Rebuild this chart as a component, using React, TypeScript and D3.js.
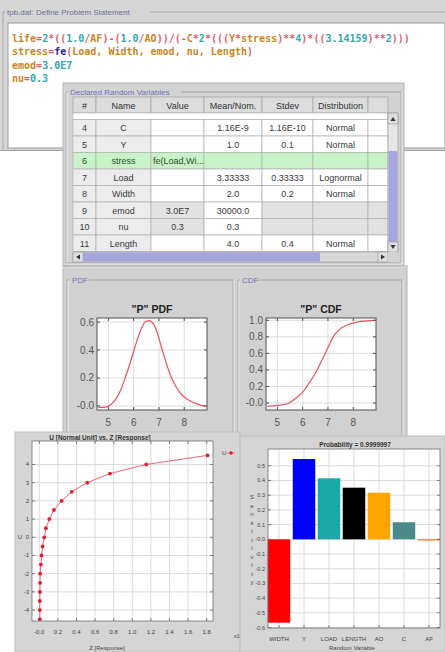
import React from 'react';
import * as d3 from 'd3';

// ---------------- data ----------------
const codeLines = [
  'life=2*((1.0/AF)-(1.0/AO))/(-C*2*(((Y*stress)**4)*((3.14159)**2)))',
  'stress=fe(Load, Width, emod, nu, Length)',
  'emod=3.0E7',
  'nu=0.3',
];

const tableHeaders = ['#', 'Name', 'Value', 'Mean/Nom.', 'Stdev', 'Distribution', ''];
const varIds = ['4', '5', '6', '7', '8', '9', '10', '11'];
const varNames = ['C', 'Y', 'stress', 'Load', 'Width', 'emod', 'nu', 'Length'];
const varValues = ['', '', 'fe(Load,Wi...', '', '', '3.0E7', '0.3', ''];
const varMeans = ['1.16E-9', '1.0', '', '3.33333', '2.0', '30000.0', '0.3', '4.0'];
const varStdevs = ['1.16E-10', '0.1', '', '0.33333', '0.2', '', '', '0.4'];
const varDists = ['Normal', 'Normal', '', 'Lognormal', 'Normal', '', '', 'Normal'];

const pdfX = [4.6, 4.9, 5.1, 5.3, 5.5, 5.7, 5.9, 6.1, 6.3, 6.45, 6.6, 6.75, 6.9, 7.1, 7.3, 7.5, 7.7, 7.9, 8.1, 8.3, 8.5, 8.85];
const pdfY = [-0.01, -0.008, 0.01, 0.05, 0.12, 0.22, 0.33, 0.45, 0.55, 0.6, 0.61, 0.595, 0.54, 0.42, 0.3, 0.2, 0.13, 0.08, 0.05, 0.03, 0.015, -0.005];
const cdfX = [4.6, 5.0, 5.4, 5.7, 6.0, 6.25, 6.5, 6.75, 7.0, 7.25, 7.5, 7.8, 8.1, 8.4, 8.85];
const cdfY = [-0.04, -0.03, -0.01, 0.05, 0.13, 0.24, 0.36, 0.51, 0.67, 0.82, 0.9, 0.95, 0.975, 0.99, 1.0];
const distTicksX = [5, 6, 7, 8];
const pdfTicksY = [0, 0.2, 0.4, 0.6];
const cdfTicksY = [0, 0.2, 0.4, 0.6, 0.8, 1.0];

const uValues = [-4.5, -4, -3.5, -3, -2.5, -2, -1.5, -1, -0.5, 0, 0.5, 1, 1.5, 2, 2.5, 3, 3.5, 4, 4.5];
const zValues = [0.006, 0.006, 0.006, 0.007, 0.009, 0.01, 0.018, 0.025, 0.036, 0.054, 0.072, 0.108, 0.158, 0.24, 0.348, 0.516, 0.76, 1.15, 1.81];
const uTicks = [-4, -3, -2, -1, 0, 1, 2, 3, 4];
const zTicks = [0, 0.2, 0.4, 0.6, 0.8, 1.0, 1.2, 1.4, 1.6, 1.8];

const sensVars = ['WIDTH', 'Y', 'LOAD', 'LENGTH', 'AO', 'C', 'AF'];
const sensValues = [-0.567, 0.546, 0.415, 0.351, 0.317, 0.116, -0.005];
const sensColors = ['#ff0000', '#0000ff', '#1aa8a8', '#000000', '#ffa500', '#4a8a8a', '#f07030'];
const sensTicks = [0.5, 0.4, 0.3, 0.2, 0.1, 0, -0.1, -0.2, -0.3, -0.4, -0.5, -0.6];

// ---------------- helpers ----------------
const SANS = 'Liberation Sans, Arial, sans-serif';
const MONO = 'DejaVu Sans Mono, monospace';
const fmt1 = (v: number) => (Math.abs(v) < 1e-9 ? '-0.0' : v.toFixed(1));

function tokenColor(tok: string): string {
  if (tok === 'fe') return '#2a2a98';
  if (/^[A-Za-z_]/.test(tok)) return '#c8861e';
  if (/^\d/.test(tok)) return '#2fa7b4';
  if (tok === ',' || tok === ' ') return '#c8861e';
  return '#e0606a';
}

function CodeLine({ text, x, y }: { text: string; x: number; y: number }) {
  const toks = text.match(/[A-Za-z_][A-Za-z_0-9]*|\d+(?:\.\d+)?(?:E\d+)?|./g) || [];
  return (
    <text x={x} y={y} fontFamily={MONO} fontSize={10} fontWeight="bold" style={{ whiteSpace: 'pre' }}>
      {toks.map((t, i) => (
        <tspan key={i} fill={tokenColor(t)}>{t}</tspan>
      ))}
    </text>
  );
}

function DistPlot({ x, y, xs, ys, yTicks, title }: any) {
  const [x0, x1] = x.range();
  const [yb, yt] = y.range();
  const line = d3
    .line<number>()
    .x((_, i) => x(xs[i]))
    .y((d) => y(d))
    .curve(d3.curveMonotoneX);
  return (
    <g>
      <rect x={x0} y={yt} width={x1 - x0} height={yb - yt} fill="#fff" />
      {distTicksX.map((t) => (
        <line key={'gx' + t} x1={x(t)} x2={x(t)} y1={yt} y2={yb} stroke="#d4d4d4" strokeWidth={0.8} />
      ))}
      {yTicks.map((t: number) => (
        <line key={'gy' + t} x1={x0} x2={x1} y1={y(t)} y2={y(t)} stroke="#d4d4d4" strokeWidth={0.8} />
      ))}
      <path d={line(ys) || ''} fill="none" stroke="#e8505e" strokeWidth={1.2} />
      <rect x={x0} y={yt} width={x1 - x0} height={yb - yt} fill="none" stroke="#505050" strokeWidth={1} />
      {distTicksX.map((t) => (
        <g key={'tx' + t}>
          <line x1={x(t)} x2={x(t)} y1={yb} y2={yb - 3} stroke="#505050" />
          <line x1={x(t)} x2={x(t)} y1={yt} y2={yt + 3} stroke="#505050" />
          <text x={x(t)} y={yb + 16} textAnchor="middle" fontFamily={SANS} fontSize={10} fill="#555">
            {String(t)}
          </text>
        </g>
      ))}
      {yTicks.map((t: number) => (
        <g key={'ty' + t}>
          <line x1={x0} x2={x0 + 3} y1={y(t)} y2={y(t)} stroke="#505050" />
          <line x1={x1} x2={x1 - 3} y1={y(t)} y2={y(t)} stroke="#505050" />
          <text x={x0 - 3} y={y(t) + 3.5} textAnchor="end" fontFamily={SANS} fontSize={10} fill="#555">
            {fmt1(t)}
          </text>
        </g>
      ))}
      <text x={(x0 + x1) / 2} y={yt - 5} textAnchor="middle" fontFamily={SANS} fontSize={10.5} fontWeight="bold" fill="#222">
        {title}
      </text>
    </g>
  );
}

function TitledBorder({ x, y, w, h, title, tx }: any) {
  const tw = title.length * 4.3 + 4;
  return (
    <g>
      <path
        d={`M${tx - 2},${y} H${x} V${y + h} H${x + w} V${y} H${tx + tw}`}
        fill="none"
        stroke="#a6a6a6"
        strokeWidth={1}
      />
      <path
        d={`M${tx - 2},${y + 1} H${x + 1} V${y + h - 1} M${x + w + 1},${y} V${y + h + 1} H${x}`}
        fill="none"
        stroke="#f2f2f2"
        strokeWidth={0.8}
      />
      <text x={tx} y={y + 3} fontFamily={SANS} fontSize={8} fill="#7272b8">
        {title}
      </text>
    </g>
  );
}

export default function App() {
  // table geometry
  const colX = [73, 96, 151, 204, 262, 313, 368, 388];
  const headTop = 97;
  const headBot = 113;
  const rowTop = 119.5;
  const rowH = 16.5;
  const rowCols = [varIds, varNames, varValues, varMeans, varStdevs, varDists];

  // distribution plots
  const pdfXs = d3.scaleLinear().domain([4.55, 8.9]).range([97, 207]);
  const pdfYs = d3.scaleLinear().domain([-0.029, 0.629]).range([410, 318]);
  const cdfXs = d3.scaleLinear().domain([4.55, 8.9]).range([266, 376]);
  const cdfYs = d3.scaleLinear().domain([-0.085, 1.028]).range([410, 318]);

  // scatter
  const sx = d3.scaleLinear().domain([-0.078, 1.868]).range([32, 213]);
  const sy = d3.scaleLinear().domain([-4.6, 5.29]).range([621, 441]);
  const sLine = d3
    .line<number>()
    .x((d) => sx(d))
    .y((_, i) => sy(uValues[i]));

  // bar chart
  const bx = d3.scaleLinear().domain([-0.44, 6.44]).range([268, 440]);
  const by = d3.scaleLinear().domain([-0.603, 0.614]).range([628, 449]);
  const barW = bx(0.9) - bx(0);

  const cellBg = (r: number, c: number) => {
    if (varNames[r] === 'stress') return '#c9f2c9';
    if (c <= 1) return '#ececec';
    const fixed = varNames[r] === 'emod' || varNames[r] === 'nu';
    if (fixed && c !== 3) return '#e2e2e2';
    return '#ffffff';
  };

  return (
    <svg width={445} height={652} style={{ position: 'absolute', left: 0, top: 0, background: '#fff' }}>
      {/* ---------- code window ---------- */}
      <rect x={0} y={0} width={445} height={151} fill="#d6d6d6" />
      <path d="M3,12 H5 M150,12 H445" stroke="#a8a8a8" />
      <path d="M3,12 V150" stroke="#a8a8a8" />
      <text x={7} y={15} fontFamily={SANS} fontSize={8} fill="#6e6e9c">
        tpb.dat: Define Problem Statement
      </text>
      <rect x={8} y={23} width={437} height={125} fill="#fff" stroke="#9a9a9a" strokeWidth={1} />
      {codeLines.map((l, i) => (
        <CodeLine key={i} text={l} x={12} y={41.5 + i * 13.5} />
      ))}
      <line x1={0} x2={445} y1={150.5} y2={150.5} stroke="#a0a0a0" />

      {/* ---------- declared random variables panel ---------- */}
      <rect x={63} y={83} width={341} height={183} fill="#d3d3d3" stroke="#b4b4b4" />
      <TitledBorder x={66} y={92} w={335} h={171} title="Declared Random Variables" tx={70} />
      {/* header */}
      {tableHeaders.map((h, c) => (
        <g key={'h' + c}>
          <rect x={colX[c]} y={headTop} width={colX[c + 1] - colX[c]} height={headBot - headTop} fill="#dcdcdc" stroke="#a8a8a8" strokeWidth={0.8} />
          <text x={(colX[c] + colX[c + 1]) / 2} y={headTop + 11.5} textAnchor="middle" fontFamily={SANS} fontSize={9} fill="#333">
            {h}
          </text>
        </g>
      ))}
      <rect x={colX[0]} y={headBot} width={colX[7] - colX[0]} height={rowTop - headBot} fill="#fff" stroke="#b0b0b0" strokeWidth={0.6} />
      {/* rows */}
      {varIds.map((_, r) => (
        <g key={'r' + r}>
          {[0, 1, 2, 3, 4, 5, 6].map((c) => (
            <g key={c}>
              <rect
                x={colX[c]}
                y={rowTop + r * rowH}
                width={colX[c + 1] - colX[c]}
                height={rowH}
                fill={cellBg(r, c)}
                stroke="#b0b0b0"
                strokeWidth={0.7}
              />
              {c < 6 && (
                <text
                  x={c === 2 && varNames[r] === 'stress' ? colX[c] + 2 : (colX[c] + colX[c + 1]) / 2}
                  y={rowTop + r * rowH + 11.5}
                  textAnchor={c === 2 && varNames[r] === 'stress' ? 'start' : 'middle'}
                  fontFamily={SANS}
                  fontSize={9}
                  fill={varNames[r] === 'stress' ? '#2d4d2d' : '#3a3a3a'}
                >
                  {rowCols[c][r]}
                </text>
              )}
            </g>
          ))}
        </g>
      ))}
      {/* vertical scrollbar */}
      <rect x={388} y={113} width={10} height={139} fill="#e6e6e6" stroke="#a0a0a0" strokeWidth={0.7} />
      <rect x={388} y={113} width={10} height={11} fill="#dedede" stroke="#a0a0a0" strokeWidth={0.7} />
      <path d="M390.5,121 L393,117 L395.5,121 Z" fill="#333" />
      <rect x={388.5} y={151} width={9} height={91} fill="#a6a6de" />
      <rect x={388} y={242} width={10} height={10} fill="#dedede" stroke="#a0a0a0" strokeWidth={0.7} />
      <path d="M390.5,245 L393,249 L395.5,245 Z" fill="#333" />
      {/* horizontal scrollbar */}
      <rect x={73} y={252} width={315} height={10} fill="#d8d8d8" stroke="#a0a0a0" strokeWidth={0.7} />
      <rect x={73} y={252} width={10} height={10} fill="#dedede" stroke="#a0a0a0" strokeWidth={0.7} />
      <path d="M80,254.5 L76,257 L80,259.5 Z" fill="#333" />
      <rect x={83} y={252.5} width={237} height={9} fill="#a6a6de" />
      <rect x={378} y={252} width={10} height={10} fill="#dedede" stroke="#a0a0a0" strokeWidth={0.7} />
      <path d="M381,254.5 L385,257 L381,259.5 Z" fill="#333" />
      <rect x={388} y={252} width={10} height={10} fill="#d3d3d3" />

      {/* ---------- PDF / CDF panel ---------- */}
      <rect x={63} y={266} width={344} height={172} fill="#d1d1d1" stroke="#b4b4b4" />
      <line x1={63} x2={407} y1={267.5} y2={267.5} stroke="#e8e8e8" strokeDasharray="1,1" />
      <TitledBorder x={67} y={280} w={166} h={160} title="PDF" tx={72} />
      <TitledBorder x={238} y={280} w={164} h={160} title="CDF" tx={242} />
      <DistPlot x={pdfXs} y={pdfYs} xs={pdfX} ys={pdfY} yTicks={pdfTicksY} title={'"P" PDF'} />
      <DistPlot x={cdfXs} y={cdfYs} xs={cdfX} ys={cdfY} yTicks={cdfTicksY} title={'"P" CDF'} />

      {/* ---------- scatter window ---------- */}
      <rect x={15} y={432} width={225} height={220} fill="#d5d5d5" stroke="#c0c0c0" />
      <text x={100} y={440} textAnchor="middle" fontFamily={SANS} fontSize={6.5} fontWeight="bold" fill="#333">
        U [Normal Unit] vs. Z [Response]
      </text>
      <rect x={32} y={441} width={181} height={180} fill="#fff" />
      {zTicks.map((t) => (
        <line key={'zg' + t} x1={sx(t)} x2={sx(t)} y1={441} y2={621} stroke="#d0d0d0" strokeWidth={0.8} />
      ))}
      {uTicks.map((t) => (
        <line key={'ug' + t} x1={32} x2={213} y1={sy(t)} y2={sy(t)} stroke="#d0d0d0" strokeWidth={0.8} />
      ))}
      <path d={sLine(zValues) || ''} fill="none" stroke="#f26478" strokeWidth={1} />
      {zValues.map((z, i) => (
        <circle key={'pt' + i} cx={sx(z)} cy={sy(uValues[i])} r={1.9} fill="#e01c30" />
      ))}
      <rect x={32} y={441} width={181} height={180} fill="none" stroke="#707070" strokeWidth={0.8} />
      {zTicks.map((t) => (
        <g key={'zt' + t}>
          <line x1={sx(t)} x2={sx(t)} y1={621} y2={618} stroke="#555" strokeWidth={0.7} />
          <line x1={sx(t)} x2={sx(t)} y1={441} y2={444} stroke="#555" strokeWidth={0.7} />
          <text x={sx(t)} y={634} textAnchor="middle" fontFamily={SANS} fontSize={6} fill="#444">
            {fmt1(t)}
          </text>
        </g>
      ))}
      {uTicks.map((t) => (
        <g key={'ut' + t}>
          <line x1={32} x2={35} y1={sy(t)} y2={sy(t)} stroke="#555" strokeWidth={0.7} />
          <line x1={213} x2={210} y1={sy(t)} y2={sy(t)} stroke="#555" strokeWidth={0.7} />
          <text x={29} y={sy(t) + 2} textAnchor="end" fontFamily={SANS} fontSize={6} fill="#444">
            {String(t)}
          </text>
        </g>
      ))}
      <text x={20} y={sy(0) + 2} textAnchor="middle" fontFamily={SANS} fontSize={6} fill="#444">
        U
      </text>
      <text x={107} y={650} textAnchor="middle" fontFamily={SANS} fontSize={6} fill="#444">
        Z [Response]
      </text>
      <text x={234} y={638} fontFamily={SANS} fontSize={5.5} fill="#444">
        x10<tspan dy={-2.5} fontSize={4.5}>8</tspan>
      </text>
      <text x={222} y={455} fontFamily={SANS} fontSize={6} fill="#444">
        U
      </text>
      <line x1={227} x2={235} y1={453} y2={453} stroke="#f26478" strokeWidth={0.8} />
      <circle cx={231} cy={453} r={1.8} fill="#e01c30" />

      {/* ---------- sensitivity bar chart window ---------- */}
      <rect x={240} y={436} width={205} height={216} fill="#d5d5d5" stroke="#c0c0c0" />
      <text x={355} y={446.5} textAnchor="middle" fontFamily={SANS} fontSize={6.5} fontWeight="bold" fill="#333">
        Probability = 0.9999997
      </text>
      <rect x={268} y={449} width={172} height={179} fill="#fff" />
      {sensVars.map((_, i) => (
        <line key={'bg' + i} x1={bx(i)} x2={bx(i)} y1={449} y2={628} stroke="#d0d0d0" strokeWidth={0.8} />
      ))}
      {sensTicks.map((t) => (
        <line key={'sg' + t} x1={268} x2={440} y1={by(t)} y2={by(t)} stroke="#d0d0d0" strokeWidth={0.8} />
      ))}
      {sensValues.map((v, i) => (
        <rect
          key={'bar' + i}
          x={bx(i) - barW / 2}
          y={Math.min(by(v), by(0))}
          width={Math.min(barW, 440 - (bx(i) - barW / 2))}
          height={Math.max(Math.abs(by(v) - by(0)), 1.2)}
          fill={sensColors[i]}
        />
      ))}
      <rect x={268} y={449} width={172} height={179} fill="none" stroke="#707070" strokeWidth={0.8} />
      {sensTicks.map((t) => (
        <g key={'st' + t}>
          <line x1={268} x2={271} y1={by(t)} y2={by(t)} stroke="#555" strokeWidth={0.7} />
          <line x1={440} x2={437} y1={by(t)} y2={by(t)} stroke="#555" strokeWidth={0.7} />
          <text x={265} y={by(t) + 2} textAnchor="end" fontFamily={SANS} fontSize={5.5} fill="#444">
            {fmt1(t)}
          </text>
        </g>
      ))}
      {sensVars.map((v, i) => (
        <g key={'bl' + i}>
          <line x1={bx(i)} x2={bx(i)} y1={628} y2={625} stroke="#555" strokeWidth={0.7} />
          <text x={bx(i)} y={641} textAnchor="middle" fontFamily={SANS} fontSize={6} fill="#444">
            {v}
          </text>
        </g>
      ))}
      {'Sensitivity'.split('').map((ch, i) => (
        <text key={'sl' + i} x={252} y={499 + i * 8.5} textAnchor="middle" fontFamily={SANS} fontSize={6} fill="#444">
          {ch}
        </text>
      ))}
      <text x={352} y={650} textAnchor="middle" fontFamily={SANS} fontSize={6} fill="#444">
        Random Variable
      </text>
    </svg>
  );
}
